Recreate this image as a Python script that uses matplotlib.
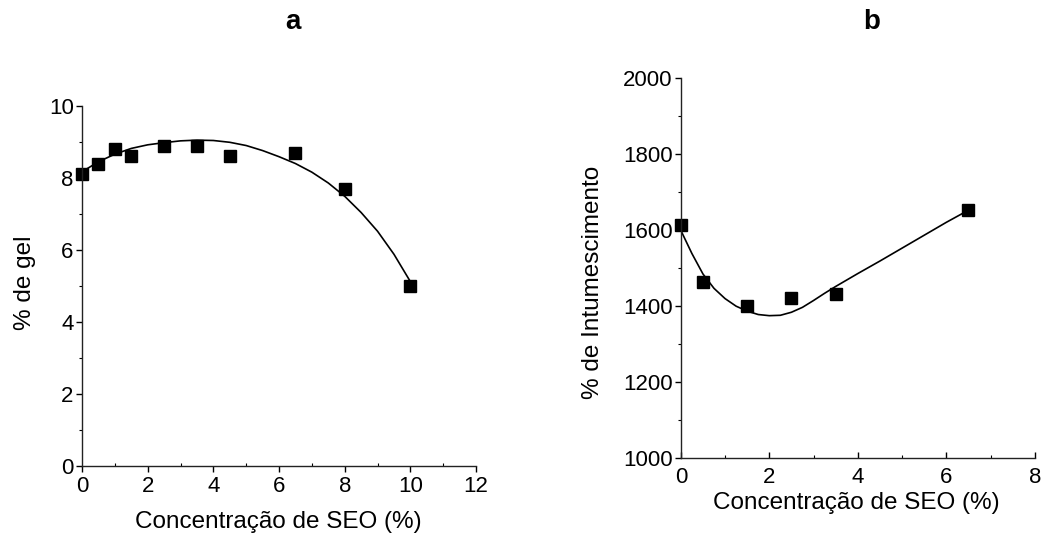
import matplotlib.pyplot as plt
from matplotlib.ticker import MultipleLocator

plt.rcParams["font.family"] = ["Liberation Sans", "DejaVu Sans"]

# panel a: gel fraction
seo_a = [0, 0.5, 1, 1.5, 2.5, 3.5, 4.5, 6.5, 8, 10]
gel = [8.1, 8.4, 8.8, 8.6, 8.9, 8.9, 8.6, 8.7, 7.7, 5.0]
# fitted curve
fit_a_x = [0, 0.5, 1, 1.5, 2, 2.5, 3, 3.5, 4, 4.5, 5, 5.5, 6, 6.5, 7, 7.5, 8, 8.5, 9, 9.5, 10]
fit_a_y = [8.17, 8.45, 8.66, 8.82, 8.92, 8.98, 9.03, 9.05, 9.04, 8.99, 8.90,
           8.76, 8.59, 8.40, 8.16, 7.86, 7.49, 7.04, 6.52, 5.88, 5.12]

# panel b: swelling
seo_b = [0, 0.5, 1.5, 2.5, 3.5, 6.5]
swell = [1613, 1463, 1400, 1421, 1430, 1653]
fit_b_x = [0, 0.25, 0.5, 0.75, 1, 1.25, 1.5, 1.75, 2, 2.25, 2.5, 2.75, 3,
           3.25, 3.5, 4, 4.5, 5, 5.5, 6, 6.5]
fit_b_y = [1599, 1538, 1484, 1446, 1419, 1399, 1386, 1377, 1374, 1375, 1383,
           1396, 1414, 1433, 1451, 1485, 1518, 1552, 1586, 1620, 1652]

LABEL = "Concentração de SEO (%)"


def style(ax, x_major_dir, x_pad):
    for side in ("top", "right"):
        ax.spines[side].set_visible(False)
    for side in ("left", "bottom"):
        ax.spines[side].set_linewidth(1.0)
        ax.spines[side].set_color("#222222")
    ax.tick_params(axis="y", which="major", direction="out", length=4, width=1.0, labelsize=16, pad=2)
    ax.tick_params(axis="y", which="minor", direction="out", length=2.5, width=0.8)
    ax.tick_params(axis="x", which="major", direction=x_major_dir, length=4, width=1.0, labelsize=16, pad=x_pad)
    ax.tick_params(axis="x", which="minor", direction="in", length=2.5, width=0.8)


fig = plt.figure(figsize=(10.41, 5.35), dpi=100)

ax1 = fig.add_axes([0.0788, 0.129, 0.3785, 0.673])
ax1.plot(fit_a_x, fit_a_y, color="black", lw=1.2)
ax1.plot(seo_a, gel, "s", color="black", ms=8, clip_on=False)
ax1.set_xlim(0, 12)
ax1.set_ylim(0, 10)
ax1.xaxis.set_major_locator(MultipleLocator(2))
ax1.xaxis.set_minor_locator(MultipleLocator(1))
ax1.yaxis.set_major_locator(MultipleLocator(2))
ax1.yaxis.set_minor_locator(MultipleLocator(1))
style(ax1, "out", 3)
ax1.set_xlabel(LABEL, fontsize=17.5, va="center")
ax1.set_ylabel("% de gel", fontsize=17.5, va="center")
ax1.xaxis.set_label_coords(0.497, -0.156)
ax1.yaxis.set_label_coords(-0.145, 0.51)

ax2 = fig.add_axes([0.654, 0.1448, 0.340, 0.709])
ax2.plot(fit_b_x, fit_b_y, color="black", lw=1.2)
ax2.plot(seo_b, swell, "s", color="black", ms=8, clip_on=False)
ax2.set_xlim(0, 8)
ax2.set_ylim(1000, 2000)
ax2.xaxis.set_major_locator(MultipleLocator(2))
ax2.xaxis.set_minor_locator(MultipleLocator(1))
ax2.yaxis.set_major_locator(MultipleLocator(200))
ax2.yaxis.set_minor_locator(MultipleLocator(100))
style(ax2, "in", 7)
ax2.set_xlabel(LABEL, fontsize=17.5, va="center")
ax2.set_ylabel("% de Intumescimento", fontsize=17.5, va="center")
ax2.xaxis.set_label_coords(0.497, -0.12)
ax2.yaxis.set_label_coords(-0.249, 0.462)

fig.text(293 / 1041, 1 - 22 / 535, "a", ha="center", va="center", fontsize=20, weight="bold")
fig.text(872 / 1041, 1 - 22 / 535, "b", ha="center", va="center", fontsize=20, weight="bold")

fig.savefig("out.png", dpi=100)
